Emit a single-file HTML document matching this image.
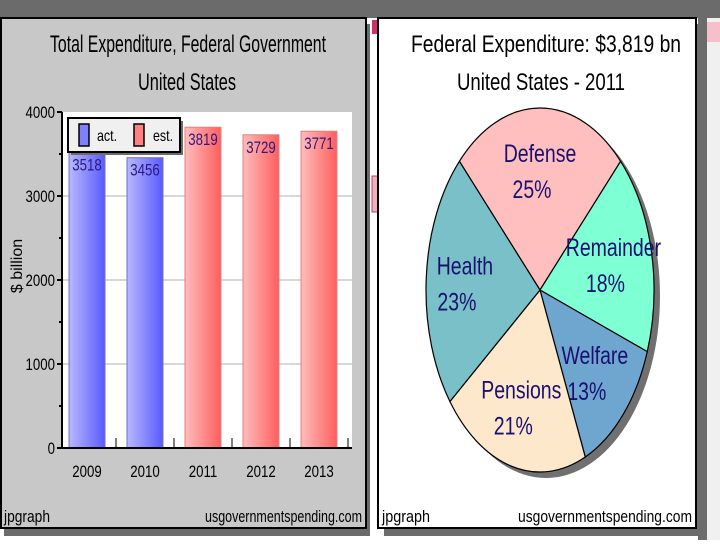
<!DOCTYPE html>
<html><head><meta charset="utf-8"><style>
body{margin:0;width:720px;height:540px;overflow:hidden;background:#fff;font-family:"Liberation Sans",sans-serif}
svg text{font-family:"Liberation Sans",sans-serif}
</style></head><body>
<svg width="720" height="540" viewBox="0 0 720 540" xmlns="http://www.w3.org/2000/svg">
<defs>
<linearGradient id="gb" x1="0" x2="1"><stop offset="0" stop-color="#b8b8ff"/><stop offset="1" stop-color="#5a5aff"/></linearGradient>
<linearGradient id="gr" x1="0" x2="1"><stop offset="0" stop-color="#ffbcbc"/><stop offset="1" stop-color="#ff5e5e"/></linearGradient>
</defs>
<rect x="0" y="0" width="720" height="18" fill="#6b6b6b"/>
<rect x="698" y="0" width="9" height="540" fill="#6b6b6b"/>
<rect x="707" y="18" width="13" height="522" fill="#f0f0f0"/>
<rect x="707" y="22" width="13" height="20" fill="#f5c0cc"/>
<rect x="4" y="24" width="366" height="512" fill="#6b6b6b"/>
<rect x="1" y="18" width="365" height="510" fill="#c8c8c8" stroke="#000" stroke-width="2"/>
<text x="188" y="52" font-size="24" text-anchor="middle" textLength="276" lengthAdjust="spacingAndGlyphs">Total Expenditure, Federal Government</text>
<text x="187" y="90" font-size="24" text-anchor="middle" textLength="98" lengthAdjust="spacingAndGlyphs">United States</text>
<g id="barchart"></g>
<text x="4" y="522" font-size="17" textLength="46" lengthAdjust="spacingAndGlyphs">jpgraph</text>
<text x="205" y="522" font-size="17" textLength="157" lengthAdjust="spacingAndGlyphs">usgovernmentspending.com</text>
<rect x="372" y="20" width="6" height="14" fill="#d0306a"/>
<rect x="372" y="176" width="6" height="36" fill="#f0b0c0" stroke="#c04060"/>
<rect x="384" y="24" width="318" height="512" fill="#6b6b6b"/>
<rect x="378" y="18" width="318" height="510" fill="#fff" stroke="#000" stroke-width="2"/>
<text x="411" y="52" font-size="24" textLength="270" lengthAdjust="spacingAndGlyphs">Federal Expenditure: $3,819 bn</text>
<text x="457" y="90" font-size="24" textLength="168" lengthAdjust="spacingAndGlyphs">United States - 2011</text>
<g id="piechart"></g>
<text x="382" y="522" font-size="17" textLength="48" lengthAdjust="spacingAndGlyphs">jpgraph</text>
<text x="518" y="522" font-size="17" textLength="174" lengthAdjust="spacingAndGlyphs">usgovernmentspending.com</text>
</svg>
<script>
const years=["2009","2010","2011","2012","2013"];
const spend=[3518,3456,3819,3729,3771];
const kinds=["act","act","est","est","est"];
const yTicks=[0,1000,2000,3000,4000];
const pieLabels=["Defense","Remainder","Welfare","Pensions","Health"];
const piePct=[25,18,13,21,23];
const pieColors=["#ffbfbf","#7fffd4","#6ea6cf","#fde8cc","#79c0c8"];

const NS="http://www.w3.org/2000/svg";
function mk(p,t,a){const e=document.createElementNS(NS,t);for(const k in a)e.setAttribute(k,a[k]);p.appendChild(e);return e;}
function ctext(p,x,y,size,anchor,fill,str,sc){const e=mk(p,'text',{x:0,y:0,'font-size':size,'text-anchor':anchor,fill:fill,transform:`translate(${x},${y}) scale(${sc||0.78},1)`});e.textContent=str;return e;}
const bc=document.getElementById('barchart');
const X0=62,X1=352,Y0=448,Y1=112;
const ys=v=>Y0-(v/4000)*(Y0-Y1);
const band=(X1-X0)/years.length;
const xc=i=>X0+band*(i+0.5)-4;
let r=mk(bc,'rect',{x:X0,y:Y1,width:X1-X0,height:Y0-Y1,fill:'#fff'});

yTicks.forEach(v=>{
 if(v>0&&v<4000){const g=mk(bc,'line',{x1:X0,x2:X1,y1:ys(v),y2:ys(v),stroke:'#d8d8d8','stroke-width':2});}
 const t=ctext(bc,55,ys(v)+6,17,'end','#000',String(v));
 
 mk(bc,'line',{x1:X0-5,x2:X0,y1:ys(v),y2:ys(v),stroke:'#000','stroke-width':2});
 if(v<4000)mk(bc,'line',{x1:X0-3,x2:X0,y1:ys(v+500),y2:ys(v+500),stroke:'#000','stroke-width':2});
});
years.forEach((y,i)=>{
 const w=36,v=spend[i];
 const b=mk(bc,'rect',{x:xc(i)-w/2,y:ys(v),width:w,height:Y0-ys(v),fill:kinds[i]=='act'?'url(#gb)':'url(#gr)',stroke:kinds[i]=='act'?'#7070c0':'#e08080'});
 
 const l=ctext(bc,xc(i),ys(v)+18,17,'middle','#2a1a80',String(v));
 
 const t=ctext(bc,xc(i),477,17,'middle','#000',y);
 
 mk(bc,'line',{x1:X0+band*(i+1)-4,x2:X0+band*(i+1)-4,y1:Y0-10,y2:Y0,stroke:'#000'});
});
mk(bc,'line',{x1:X0,x2:X0,y1:Y1,y2:Y0,stroke:'#000','stroke-width':2});
mk(bc,'line',{x1:X0,x2:X1,y1:Y0,y2:Y0,stroke:'#000','stroke-width':2});
const yt=mk(bc,'text',{x:0,y:0,'font-size':16,'text-anchor':'middle',transform:'translate(22,266) rotate(-90)'});yt.textContent='$ billion';

const lg=mk(bc,'g',{});
mk(lg,'rect',{x:71,y:121,width:112,height:34,fill:'#6b6b6b'});
mk(lg,'rect',{x:68,y:118,width:112,height:34,fill:'#f0f0f0',stroke:'#000','stroke-width':2});
mk(lg,'rect',{x:79,y:124,width:10,height:22,fill:'#8080ff',stroke:'#000','stroke-width':1.5});
mk(lg,'rect',{x:134,y:124,width:10,height:22,fill:'#ff8080',stroke:'#000','stroke-width':1.5});
let t1=ctext(lg,97,141,16,'start','#000','act.');
let t2=ctext(lg,153,141,16,'start','#000','est.');

const pc=document.getElementById('piechart');
const cx=540,cy=290,rx=114,ry=182;
const pt=(a,s)=>[cx+rx*s*Math.sin(a),cy-ry*s*Math.cos(a)];
mk(pc,'ellipse',{cx:cx+6,cy:cy+6,rx:rx,ry:ry,fill:'#707070'});
let a=-Math.PI/4;
const tot=piePct.reduce((p,q)=>p+q,0);
piePct.forEach((p,i)=>{
 const da=p/tot*2*Math.PI,a2=a+da;
 const [x1,y1]=pt(a,1),[x2,y2]=pt(a2,1);
 const s=mk(pc,'path',{d:`M${cx},${cy}L${x1},${y1}A${rx},${ry} 0 ${da>Math.PI?1:0} 1 ${x2},${y2}Z`,fill:pieColors[i],stroke:'#000','stroke-width':1.2});
 
 const [lx,ly]=pt(a+da/2,0.66);
 const l=ctext(pc,lx,ly-8,25,'middle','#1a1070',pieLabels[i]);
 
 const v=ctext(pc,lx-8,ly+28,25,'middle','#1a1070',p+'%');
 
 a=a2;
});
</script>
</body></html>
